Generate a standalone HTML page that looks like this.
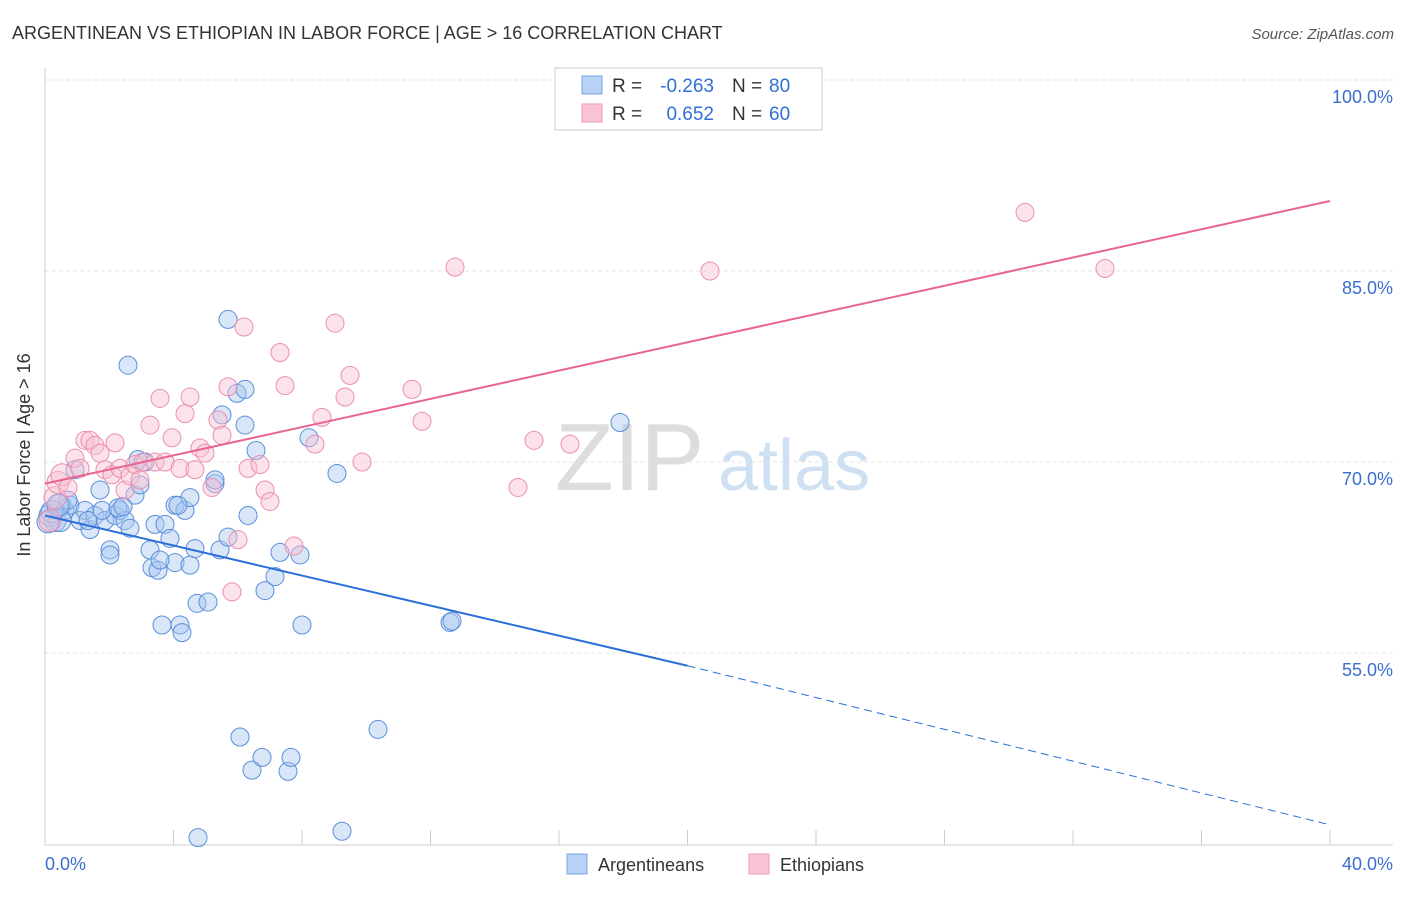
<!DOCTYPE html>
<html><head><meta charset="utf-8"><style>
body{margin:0;background:#fff;font-family:"Liberation Sans",sans-serif;}
svg text{font-family:"Liberation Sans",sans-serif;}
</style></head><body>
<svg id="chart" width="1406" height="892">
<text x="12" y="39" font-size="18" fill="#333">ARGENTINEAN VS ETHIOPIAN IN LABOR FORCE | AGE &gt; 16 CORRELATION CHART</text>
<text x="1394" y="39" font-size="15" fill="#555" font-style="italic" text-anchor="end">Source: ZipAtlas.com</text>
<text x="555" y="490" font-size="96" fill="#ddd" font-family="Liberation Serif">ZIP</text>
<text x="718" y="490" font-size="72" fill="#cfe0f3">atlas</text>
<g id="grid"></g><g id="axes"></g><g id="pts"></g><g id="lines"></g>
<text x="30" y="455" font-size="18" fill="#333" transform="rotate(-90 30 455)" text-anchor="middle">In Labor Force | Age &gt; 16</text>
<text x="45" y="870" font-size="18" fill="#3a6fd0">0.0%</text>
<text x="1393" y="870" font-size="18" fill="#3a6fd0" text-anchor="end">40.0%</text>
<g>
<rect x="555" y="68" width="267" height="62" fill="#fff" stroke="#ccc"/>
<rect x="582" y="76" width="20" height="18" fill="#b8d2f5" stroke="#7aa7e6"/>
<rect x="582" y="104" width="20" height="18" fill="#f9c5d5" stroke="#ee9ab4"/>
<text x="612" y="92" font-size="19" fill="#333">R =</text>
<text x="714" y="92" font-size="19" fill="#2f6fd6" text-anchor="end">-0.263</text>
<text x="732" y="92" font-size="19" fill="#333">N =</text>
<text x="769" y="92" font-size="19" fill="#2f6fd6">80</text>
<text x="612" y="120" font-size="19" fill="#333">R =</text>
<text x="714" y="120" font-size="19" fill="#2f6fd6" text-anchor="end">0.652</text>
<text x="732" y="120" font-size="19" fill="#333">N =</text>
<text x="769" y="120" font-size="19" fill="#2f6fd6">60</text>
</g>
<g>
<rect x="567" y="854" width="20" height="20" fill="#b8d2f5" stroke="#7aa7e6"/>
<text x="598" y="871" font-size="18" fill="#333">Argentineans</text>
<rect x="749" y="854" width="20" height="20" fill="#f9c5d5" stroke="#ee9ab4"/>
<text x="780" y="871" font-size="18" fill="#333">Ethiopians</text>
</g>
</svg>
<script>
const yTicks=[100,85,70,55];
const blueX=[55,50,60,65,70,75,80,85,90,95,100,105,110,110,115,120,125,128,130,135,138,140,145,150,152,155,158,162,165,170,175,175,180,182,185,190,190,195,197,208,215,220,222,228,228,237,245,245,248,240,252,256,262,265,275,280,288,291,300,302,309,337,342,378,450,452,620,198,60,52,48,68,88,58,102,118,123,215,178,160].map(p=>(p-45)/32.125);
const blueY=[520,515,505,510,505,470,520,510,530,515,490,520,550,555,515,510,520,365,528,495,460,485,462,550,568,525,570,625,525,538,505,563,625,633,510,498,565,548,603,602,483,550,415,320,537,393,425,390,515,737,770,450,758,590,576,553,771,758,555,625,438,474,831,730,622,621,423,838,520,512,522,500,520,505,510,508,506,480,505,560].map(p=>+(100-(p-80)/12.733).toFixed(1));
const pinkX=[50,55,58,62,68,75,80,85,90,95,100,105,112,115,120,125,130,135,140,143,150,155,160,165,172,180,185,190,195,200,205,212,218,222,228,232,238,244,248,260,265,270,280,285,294,315,322,335,345,350,362,412,422,455,518,534,570,710,1025,1105].map(p=>(p-45)/32.125);
const pinkY=[520,498,482,475,488,458,468,440,440,446,453,470,475,443,468,490,476,465,480,462,425,462,398,462,438,468,414,397,470,448,453,488,420,435,387,592,540,327,468,464,490,502,353,385,546,444,417,323,397,375,462,389,421,267,487,440,444,271,213,268].map(p=>+(100-(p-80)/12.733).toFixed(1));
const blueFit=[[0,65.8],[20,54.0],[40,41.5]];
const pinkFit=[[0,68.3],[40,90.5]];
const NS='http://www.w3.org/2000/svg';
const X=v=>45+v*32.125, Y=v=>80+(100-v)*12.733;
function mk(t,a,p){const e=document.createElementNS(NS,t);for(const k in a)e.setAttribute(k,a[k]);p.appendChild(e);return e;}
const g=document.getElementById('grid'),ax=document.getElementById('axes'),pts=document.getElementById('pts'),ln=document.getElementById('lines');
yTicks.forEach(t=>{const l=mk('line',{x1:45,x2:1393,y1:Y(t),y2:Y(t),stroke:'#e3e3e3','stroke-dasharray':'4 3'},g);


const tx=mk('text',{x:1393,y:Y(t)+23,'font-size':18,fill:'#3a6fd0','text-anchor':'end'},g);tx.textContent=t.toFixed(1)+'%';

});
mk('line',{x1:45,x2:45,y1:68,y2:845,stroke:'#ccc'},ax);
mk('line',{x1:45,x2:1393,y1:845,y2:845,stroke:'#ccc'},ax);
for(let i=0;i<=10;i++){mk('line',{x1:X(i*4),x2:X(i*4),y1:830,y2:845,stroke:'#ccc'},ax);}
function dots(xs,ys,fill,stroke,name){xs.forEach((x,i)=>{const r=(x<0.6)?11:9;const c=mk('circle',{cx:X(x),cy:Y(ys[i]),r:r,fill:fill,'fill-opacity':0.45,stroke:stroke,'stroke-width':1},pts);

});}
dots(blueX,blueY,'#a9c8f0','#5b8fdb','argentinean-point');
dots(pinkX,pinkY,'#f8c0d2','#eb8fae','ethiopian-point');
const b1=mk('line',{x1:X(blueFit[0][0]),y1:Y(blueFit[0][1]),x2:X(blueFit[1][0]),y2:Y(blueFit[1][1]),stroke:'#2b6fd8','stroke-width':2},ln);


const b2=mk('line',{x1:X(blueFit[1][0]),y1:Y(blueFit[1][1]),x2:X(blueFit[2][0]),y2:Y(blueFit[2][1]),stroke:'#2b6fd8','stroke-width':1,'stroke-dasharray':'8 5'},ln);


const p1=mk('line',{x1:X(pinkFit[0][0]),y1:Y(pinkFit[0][1]),x2:X(pinkFit[1][0]),y2:Y(pinkFit[1][1]),stroke:'#e8658f','stroke-width':2},ln);


</script>
</body></html>
